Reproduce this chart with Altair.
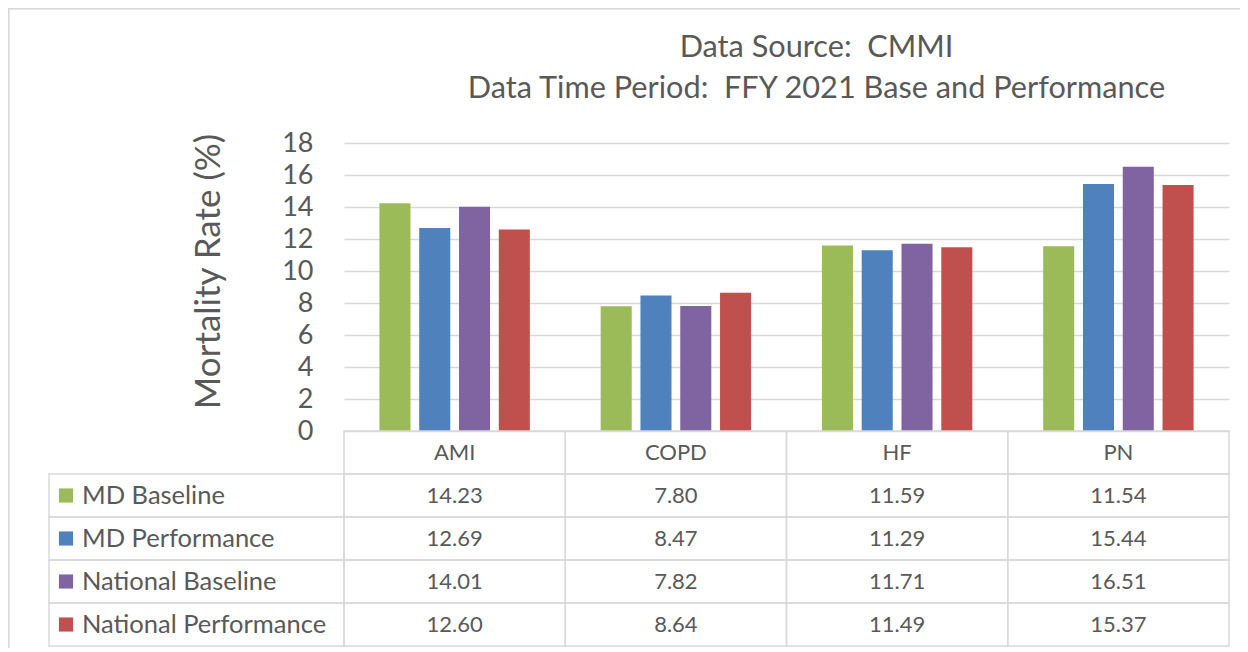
import altair as alt
import pandas as pd

categories = ["AMI", "COPD", "HF", "PN"]
series = ["MD Baseline", "MD Performance", "National Baseline", "National Performance"]
md_baseline = [14.23, 7.80, 11.59, 11.54]
md_performance = [12.69, 8.47, 11.29, 15.44]
national_baseline = [14.01, 7.82, 11.71, 16.51]
national_performance = [12.60, 8.64, 11.49, 15.37]
colors = ["#9BBB59", "#4F81BD", "#8064A2", "#C0504D"]
y_ticks = [0, 2, 4, 6, 8, 10, 12, 14, 16, 18]
title_lines = ["Data Source:\u00a0 CMMI", "Data Time Period:\u00a0 FFY 2021 Base and Performance"]
y_title = "Mortality Rate (%)"

values_by_series = [md_baseline, md_performance, national_baseline, national_performance]
rows = []
for s, vals in zip(series, values_by_series):
    for c, v in zip(categories, vals):
        rows.append({"category": c, "series": s, "value": v, "label": f"{v:.2f}"})
df = pd.DataFrame(rows)

row_domain = ["header"] + series
header_df = pd.DataFrame({"category": categories, "row": ["header"] * len(categories)})
cells_df = pd.DataFrame([{"category": c, "row": r} for c in categories for r in row_domain])
legend_df = pd.DataFrame({"col": ["label"] * len(series), "row": series})

TEXT = "#595959"
GRID = "#D9D9D9"
FONT = "Lato"

W, H = 885, 503
BAR_RANGE = [288, 0]
TABLE_RANGE = [288, 503]

cat_scale = alt.Scale(domain=categories, paddingInner=0, paddingOuter=0)
row_scale = alt.Scale(domain=row_domain, range=TABLE_RANGE, paddingInner=0, paddingOuter=0)
label_scale = alt.Scale(domain=["label"], range=[-295, 0], paddingInner=0, paddingOuter=0)
label_text_scale = alt.Scale(domain=["label"], range=[-263, -261], paddingInner=0, paddingOuter=0)
swatch_scale = alt.Scale(domain=["label"], range=[-295, -261], paddingInner=0, paddingOuter=0)
color_scale = alt.Scale(domain=series, range=colors)

bars = alt.Chart(df).mark_bar().encode(
    x=alt.X("category:N", scale=cat_scale, axis=None),
    xOffset=alt.XOffset("series:N", scale=alt.Scale(domain=series, paddingInner=0.22, paddingOuter=0.89)),
    y=alt.Y(
        "value:Q",
        scale=alt.Scale(domain=[0, 18], range=BAR_RANGE, nice=False, zero=True),
        axis=alt.Axis(
            values=y_ticks, title=y_title, grid=True, gridColor=GRID, gridWidth=1.5,
            domain=False, ticks=False, labelFontSize=27, labelColor=TEXT, labelPadding=31,
            labelFont=FONT, titleFont=FONT, titleFontSize=35, titleFontWeight="normal",
            titleColor=TEXT, titleX=-125, titleY=128, titleBaseline="alphabetic",
            titleAngle=270, titleAlign="center",
        ),
    ),
    color=alt.Color("series:N", scale=color_scale, legend=None),
)

cells = alt.Chart(cells_df).mark_rect(fillOpacity=0, stroke=GRID, strokeWidth=1.5).encode(
    x=alt.X("category:N", scale=cat_scale, axis=None),
    y=alt.Y("row:N", scale=row_scale, axis=None),
)

header_text = alt.Chart(header_df).mark_text(fontSize=22, color=TEXT, font=FONT, baseline="middle").encode(
    x=alt.X("category:N", scale=cat_scale, axis=None),
    y=alt.Y("row:N", scale=row_scale, axis=None),
    text="category:N",
)

value_text = alt.Chart(df).mark_text(fontSize=22, color=TEXT, font=FONT, baseline="middle").encode(
    x=alt.X("category:N", scale=cat_scale, axis=None),
    y=alt.Y("series:N", scale=row_scale, axis=None),
    text="label:N",
)

label_cells = alt.Chart(legend_df).mark_rect(fillOpacity=0, stroke=GRID, strokeWidth=1.5).encode(
    x=alt.X("col:N", scale=label_scale, axis=None),
    y=alt.Y("row:N", scale=row_scale, axis=None),
)

label_text = alt.Chart(legend_df).mark_text(fontSize=25.5, color=TEXT, font=FONT, align="left", baseline="middle").encode(
    x=alt.X("col:N", scale=label_text_scale, axis=None),
    y=alt.Y("row:N", scale=row_scale, axis=None),
    text="row:N",
)

swatches = alt.Chart(legend_df).mark_square(size=200, opacity=1).encode(
    x=alt.X("col:N", scale=swatch_scale, axis=None),
    y=alt.Y("row:N", scale=row_scale, axis=None),
    color=alt.Color("row:N", scale=color_scale, legend=None),
)

frame_top = alt.Chart(legend_df).mark_rule(color=GRID, strokeWidth=1.5).encode(
    x=alt.value(-335.5), x2=alt.value(W + 30), y=alt.value(-134.5)
)
frame_left = alt.Chart(legend_df).mark_rule(color=GRID, strokeWidth=1.5).encode(
    x=alt.value(-335.5), y=alt.value(-134.5), y2=alt.value(H + 30)
)

chart = alt.layer(
    frame_top, frame_left, bars, cells, label_cells, header_text, value_text, label_text, swatches
).resolve_scale(
    x="independent", y="independent", color="independent"
).properties(
    width=W,
    height=H,
    autosize=alt.AutoSizeParams(type="none"),
    padding={"left": 336, "top": 135, "right": 11, "bottom": 2},
    title=alt.TitleParams(
        text=title_lines, fontSize=30.7, font=FONT, color=TEXT, fontWeight="normal",
        anchor="middle", dx=30, offset=-97, lineHeight=41,
    ),
).configure(font=FONT).configure_view(stroke=None)

chart.save("out.html", embed_options={"renderer": "svg", "actions": False})
